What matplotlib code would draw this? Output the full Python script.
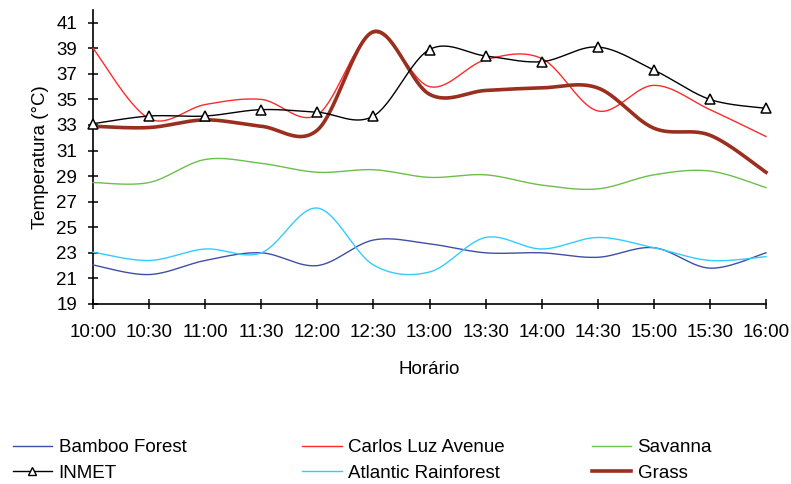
import numpy as np
import matplotlib.pyplot as plt
from matplotlib.lines import Line2D

plt.rcParams['font.family'] = ['Liberation Sans', 'DejaVu Sans']
plt.rcParams['font.size'] = 13.5

horarios = ["10:00", "10:30", "11:00", "11:30", "12:00", "12:30", "13:00",
            "13:30", "14:00", "14:30", "15:00", "15:30", "16:00"]

bamboo = [22.05, 21.3, 22.4, 23.0, 22.0, 24.0, 23.7, 23.0, 23.0, 22.65, 23.4, 21.8, 23.0]
carlos_luz = [39.0, 33.5, 34.6, 35.0, 33.8, 40.2, 36.0, 38.1, 38.2, 34.1, 36.1, 34.2, 32.1]
savanna = [28.5, 28.5, 30.3, 30.0, 29.3, 29.5, 28.9, 29.1, 28.3, 28.0, 29.1, 29.4, 28.1]
inmet = [33.1, 33.7, 33.7, 34.2, 34.0, 33.7, 38.9, 38.4, 37.95, 39.1, 37.3, 35.0, 34.3]
atlantic = [23.05, 22.4, 23.3, 23.0, 26.5, 22.05, 21.5, 24.2, 23.3, 24.2, 23.4, 22.4, 22.7]
grass = [32.9, 32.8, 33.4, 32.9, 32.6, 40.3, 35.4, 35.7, 35.9, 35.9, 32.75, 32.2, 29.3]


def suavizar(y, n=30):
    # curva suavizada tipo Catmull-Rom entre pontos consecutivos
    x = np.arange(len(y), dtype=float)
    y = np.asarray(y, dtype=float)
    px = np.concatenate([[x[0]], x, [x[-1]]])
    py = np.concatenate([[y[0]], y, [y[-1]]])
    xs, ys = [], []
    t = np.linspace(0, 1, n)
    for i in range(1, len(px) - 2):
        p0 = np.array([px[i], py[i]])
        p3 = np.array([px[i + 1], py[i + 1]])
        p1 = p0 + (np.array([px[i + 1], py[i + 1]]) - np.array([px[i - 1], py[i - 1]])) / 6
        p2 = p3 - (np.array([px[i + 2], py[i + 2]]) - np.array([px[i], py[i]])) / 6
        b = ((1 - t) ** 3)[:, None] * p0 + (3 * (1 - t) ** 2 * t)[:, None] * p1 \
            + (3 * (1 - t) * t ** 2)[:, None] * p2 + (t ** 3)[:, None] * p3
        xs.extend(b[:, 0])
        ys.extend(b[:, 1])
    return np.array(xs), np.array(ys)


fig = plt.figure(figsize=(7.91, 4.84), dpi=100)
ax = fig.add_axes([0.1176, 0.372, 0.8508, 0.6075])

series = [
    (bamboo, "#3f4fa8", 1.0),
    (carlos_luz, "#ff2a2a", 1.0),
    (savanna, "#6cbf4a", 1.0),
    (atlantic, "#33ccff", 1.0),
    (grass, "#9b2f1f", 2.6),
    (inmet, "black", 1.0),
]
for valores, cor, lw in series:
    xs, ys = suavizar(valores)
    ax.plot(xs, ys, color=cor, lw=lw, clip_on=False, zorder=3)

x = np.arange(len(horarios))
ax.plot(x, inmet, linestyle="none", marker="^", markersize=7,
        markerfacecolor="white", markeredgecolor="black", markeredgewidth=1.1,
        clip_on=False, zorder=4)

ax.set_xlim(0, 12)
ax.set_ylim(19, 42)
ax.set_yticks(np.arange(19, 42, 2))
ax.set_xticks(x)
ax.set_xticklabels(horarios)
ax.spines["top"].set_visible(False)
ax.spines["right"].set_visible(False)
ax.spines["left"].set_linewidth(1.2)
ax.spines["bottom"].set_linewidth(1.2)
ax.tick_params(direction="inout", length=7, width=1.1)
ax.tick_params(axis="y", pad=8)
ax.tick_params(axis="x", pad=11)
ax.set_xlabel("Horário", labelpad=14)
ax.set_ylabel("Temperatura (°C)", labelpad=5)

# legenda em tres colunas, posicionadas separadamente
colunas = [
    [("Bamboo Forest", "#3f4fa8", 1.0, None), ("INMET", "black", 1.0, "^")],
    [("Carlos Luz Avenue", "#ff2a2a", 1.0, None), ("Atlantic Rainforest", "#33ccff", 1.0, None)],
    [("Savanna", "#6cbf4a", 1.0, None), ("Grass", "#9b2f1f", 2.6, None)],
]
posicoes = [0.016, 0.382, 0.748]
for entradas, xpos in zip(colunas, posicoes):
    handles = [Line2D([], [], color=c, lw=lw, marker=m, markersize=6,
                      markerfacecolor="white", markeredgecolor="black")
               for _, c, lw, m in entradas]
    labels = [e[0] for e in entradas]
    fig.legend(handles, labels, loc="upper left", bbox_to_anchor=(xpos, 0.093),
               frameon=False, handlelength=2.1, handletextpad=0.35,
               labelspacing=0.45, borderaxespad=0, borderpad=0)

fig.savefig("out.png", dpi=100)
